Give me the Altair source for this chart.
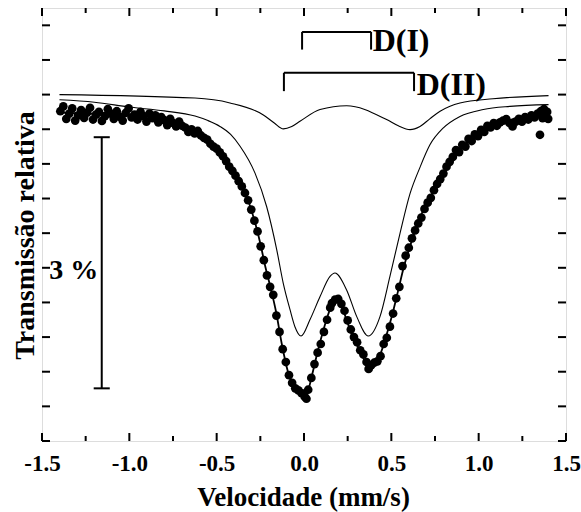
import altair as alt
import pandas as pd

FONT = "'Liberation Serif', 'Times New Roman', Times, serif"

# ---------------- data ----------------
# measured spectrum: velocity (mm/s) and relative transmission (arbitrary units, baseline ~10)
vel_data = [-1.395, -1.378, -1.361, -1.344, -1.327, -1.310, -1.293, -1.276, -1.259, -1.242,
            -1.225, -1.208, -1.191, -1.174, -1.157, -1.140, -1.123, -1.106, -1.089, -1.072,
            -1.055, -1.038, -1.021, -1.004, -0.987, -0.970, -0.953, -0.936, -0.919, -0.902,
            -0.885, -0.868, -0.851, -0.834, -0.817, -0.800, -0.783, -0.766, -0.749, -0.732,
            -0.715, -0.698,
            -0.680, -0.662, -0.644, -0.626, -0.608, -0.590, -0.572, -0.554, -0.536, -0.518,
            -0.500, -0.482, -0.464, -0.446, -0.428, -0.410, -0.392, -0.374, -0.356, -0.338,
            -0.320, -0.302, -0.284, -0.266, -0.248, -0.230, -0.212, -0.194, -0.176, -0.158,
            -0.140, -0.122, -0.104, -0.086, -0.068, -0.050, -0.032, -0.014, 0.004, 0.014,
            0.024, 0.042, 0.060, 0.078, 0.096, 0.114, 0.132, 0.150, 0.160, 0.178,
            0.196, 0.214, 0.232, 0.250, 0.268, 0.286, 0.304, 0.322, 0.340, 0.358,
            0.370, 0.384, 0.402, 0.420, 0.438, 0.456, 0.474, 0.492, 0.510, 0.528,
            0.546, 0.564, 0.582, 0.600, 0.618, 0.636, 0.654, 0.672, 0.690, 0.708,
            0.726, 0.744, 0.762, 0.780, 0.798, 0.816, 0.834, 0.852, 0.870, 0.888,
            0.906, 0.924, 0.942, 0.960, 0.978, 0.996, 1.014, 1.032, 1.050, 1.068,
            1.086, 1.104, 1.122, 1.140, 1.158, 1.176, 1.194, 1.212, 1.230, 1.248,
            1.266, 1.284, 1.302, 1.320, 1.338, 1.351, 1.356, 1.366, 1.374, 1.384,
            1.392, 1.398]
trans_data = [9.52, 9.66, 9.30, 9.45, 9.60, 9.25, 9.40, 9.55, 9.33, 9.48,
              9.62, 9.28, 9.42, 9.50, 9.24, 9.38, 9.58, 9.45, 9.30, 9.52,
              9.36, 9.25, 9.47, 9.60, 9.34, 9.42, 9.28, 9.50, 9.38, 9.22,
              9.45, 9.32, 9.40, 9.20, 9.35, 9.26, 9.12, 9.30, 9.18, 9.08,
              9.22, 9.10,
              9.05, 8.92, 9.00, 8.88, 8.95, 8.82, 8.75, 8.70, 8.58, 8.50,
              8.44, 8.33, 8.22, 8.08, 7.92, 7.80, 7.66, 7.50, 7.35, 7.16,
              6.95, 6.68, 6.36, 6.05, 5.62, 5.22, 4.78, 4.45, 4.22, 3.62,
              3.15, 2.65, 2.28, 1.90, 1.68, 1.52, 1.46, 1.38, 1.28, 1.22,
              1.48, 1.82, 2.22, 2.55, 2.80, 3.15, 3.50, 3.85, 3.98, 4.08,
              4.10, 3.96, 3.76, 3.48, 3.22, 3.00, 2.85, 2.62, 2.50, 2.28,
              2.08, 2.18, 2.26, 2.30, 2.45, 2.80, 2.98, 3.30, 3.68, 4.12,
              4.45, 5.05, 5.35, 5.58, 5.85, 6.08, 6.28, 6.45, 6.70, 6.88,
              7.02, 7.24, 7.42, 7.56, 7.72, 7.92, 8.06, 8.20, 8.40, 8.34,
              8.55, 8.50, 8.72, 8.66, 8.85, 8.80, 8.98, 8.92, 9.10, 9.05,
              9.18, 9.10, 9.20, 9.25, 9.29, 9.18, 9.08, 9.22, 9.30, 9.22,
              9.35, 9.28, 9.40, 9.34, 9.45, 8.84, 9.52, 9.32, 9.58, 9.40,
              9.50, 9.30]

# total fitted curve
vel_fit = [-1.40, -1.17, -0.94, -0.77, -0.65, -0.595, -0.54, -0.48, -0.42, -0.37,
           -0.31, -0.25, -0.22, -0.195, -0.16, -0.126, -0.092, -0.057, -0.023, 0.0,
           0.023, 0.046, 0.08, 0.115, 0.149, 0.177, 0.206, 0.24, 0.275, 0.309,
           0.344, 0.372, 0.401, 0.435, 0.469, 0.504, 0.538, 0.573, 0.607, 0.664,
           0.721, 0.779, 0.836, 0.893, 0.95, 1.008, 1.065, 1.122, 1.208, 1.294, 1.40]
trans_fit = [9.48, 9.44, 9.38, 9.26, 9.05, 8.90, 8.66, 8.30, 7.92, 7.47,
             6.80, 5.70, 5.00, 4.50, 3.73, 2.77, 2.00, 1.56, 1.35, 1.28,
             1.45, 1.90, 2.62, 3.27, 3.80, 4.05, 3.99, 3.55, 3.05, 2.72,
             2.35, 2.07, 2.16, 2.48, 3.00, 3.62, 4.32, 5.05, 5.62, 6.45,
             7.02, 7.54, 8.03, 8.41, 8.70, 8.90, 9.08, 9.20, 9.30, 9.37, 9.43]

# sub-spectrum D(I) (deep doublet)
vel_d1 = [-1.40, -1.20, -1.00, -0.80, -0.624, -0.55, -0.481, -0.42, -0.366, -0.281,
          -0.214, -0.156, -0.119, -0.080, -0.052, -0.017, 0.034, 0.092, 0.149, 0.177,
          0.244, 0.302, 0.368, 0.435, 0.492, 0.550, 0.607, 0.664, 0.721, 0.798,
          0.893, 1.027, 1.179, 1.40]
trans_d1 = [9.85, 9.78, 9.64, 9.53, 9.38, 9.25, 9.08, 8.85, 8.51, 7.74,
            6.77, 5.52, 4.56, 3.79, 3.30, 3.03, 3.50, 4.17, 4.75, 4.85,
            4.36, 3.59, 3.03, 3.59, 4.75, 6.00, 7.14, 7.90, 8.55, 9.04,
            9.37, 9.57, 9.66, 9.71]

# sub-spectrum D(II) (shallow doublet)
vel_d2 = [-1.40, -0.624, -0.424, -0.235, -0.17, -0.118, -0.07, -0.023, 0.092, 0.244,
          0.473, 0.54, 0.607, 0.664, 0.72, 0.779, 0.893, 1.082, 1.40]
trans_d2 = [10.00, 9.90, 9.76, 9.42, 9.18, 9.01, 9.08, 9.23, 9.57, 9.68,
            9.28, 9.10, 8.99, 9.08, 9.30, 9.52, 9.76, 9.88, 9.97]

# doublet markers: position lines (velocity) and height
d1_lines = [-0.011, 0.384]
d2_lines = [-0.115, 0.630]
d1_top, d1_bottom = 11.81, 11.30
d2_top, d2_bottom = 10.63, 10.10

# 3 % scale bar
bar_vel = -1.158
bar_cap = 0.046
bar_low, bar_high = 1.52, 8.77

x_major = [-1.5, -1.0, -0.5, 0.0, 0.5, 1.0, 1.5]
x_minor = [-1.25, -0.75, -0.25, 0.25, 0.75, 1.25]
y_ticks = [0, 1, 2, 3, 4, 5, 6, 7, 8, 9, 10, 11, 12]

# ---------------- chart ----------------
W, H = 524, 433
xs = alt.Scale(domain=[-1.5, 1.5], nice=False, zero=False)
ys = alt.Scale(domain=[0, 12.5], nice=False, zero=False)

df_pts = pd.DataFrame({"v": vel_data, "t": trans_data})
df_fit = pd.DataFrame({"v": vel_fit, "t": trans_fit})
df_d1 = pd.DataFrame({"v": vel_d1, "t": trans_d1})
df_d2 = pd.DataFrame({"v": vel_d2, "t": trans_d2})

x_axis = alt.Axis(
    values=x_major,
    labelExpr="replace(format(datum.value, '.1f'), '\u2212', '-')",
    ticks=False, tickSize=0, domain=False, grid=False,
    labelFont=FONT, labelFontSize=23, labelFontWeight="bold", labelColor="black",
    labelBaseline="alphabetic", labelPadding=29,
    labelOverlap=False, labelFlush=False, labelBound=False,
    title="Velocidade (mm/s)", titleFont=FONT, titleFontSize=27, titleFontWeight="bold",
    titleColor="black", titleX=261, titleY=64, titleBaseline="alphabetic", titleAlign="center",
)
y_axis = alt.Axis(
    values=[5], labels=False, ticks=False, tickSize=0, domain=False, grid=False,
    title="Transmissão relativa", titleFont=FONT, titleFontSize=28, titleFontWeight="bold",
    titleColor="black", titleX=-9, titleY=227, titleBaseline="alphabetic",
    titleAlign="center", titleAngle=270,
)

X = alt.X("v:Q", scale=xs, axis=x_axis)
Y = alt.Y("t:Q", scale=ys, axis=y_axis)

pts = alt.Chart(df_pts).mark_circle(size=76, color="black", opacity=1).encode(x=X, y=Y)

def curve(df, width):
    return alt.Chart(df).mark_line(color="black", strokeWidth=width, interpolate="monotone").encode(
        x=X, y=Y
    )

line_d1 = curve(df_d1, 1.1)
line_d2 = curve(df_d2, 1.1)
line_fit = curve(df_fit, 1.8)

# bracket markers
seg_rows = []
seg_rows.append({"v": d1_lines[0], "v2": d1_lines[1], "t": d1_top, "t2": d1_top})
for p in d1_lines:
    seg_rows.append({"v": p, "v2": p, "t": d1_top, "t2": d1_bottom})
seg_rows.append({"v": d2_lines[0], "v2": d2_lines[1], "t": d2_top, "t2": d2_top})
for p in d2_lines:
    seg_rows.append({"v": p, "v2": p, "t": d2_top, "t2": d2_bottom})
# scale bar
seg_rows.append({"v": bar_vel, "v2": bar_vel, "t": bar_low, "t2": bar_high})
seg_rows.append({"v": bar_vel - bar_cap, "v2": bar_vel + bar_cap, "t": bar_low, "t2": bar_low})
seg_rows.append({"v": bar_vel - bar_cap, "v2": bar_vel + bar_cap, "t": bar_high, "t2": bar_high})
df_seg = pd.DataFrame(seg_rows)

segs = alt.Chart(df_seg).mark_rule(color="black", strokeWidth=2).encode(
    x=X, x2="v2:Q", y=Y, y2="t2:Q",
)

df_lab = pd.DataFrame({
    "v": [0.393, 0.645],
    "t": [11.25, 10.0],
    "txt": ["D(I)", "D(II)"],
})
labels = alt.Chart(df_lab).mark_text(
    font=FONT, fontSize=32, fontWeight="bold", color="black", align="left", baseline="alphabetic"
).encode(x=X, y=Y, text="txt:N")

df_pct = pd.DataFrame({"v": [-1.178], "t": [4.67], "txt": ["3 %"]})
pct = alt.Chart(df_pct).mark_text(
    font=FONT, fontSize=28, fontWeight="bold", color="black", align="right", baseline="alphabetic"
).encode(x=X, y=Y, text="txt:N")

# inward ticks on all four sides
df_xmaj = pd.DataFrame({"v": x_major})
df_xmin = pd.DataFrame({"v": x_minor})
df_y = pd.DataFrame({"t": y_ticks})

def xticks(df, length, bottom=True):
    y0 = H if bottom else 0
    y1 = H - length if bottom else length
    return alt.Chart(df).mark_rule(color="black", strokeWidth=2).encode(
        x=X, y=alt.value(y0), y2=alt.value(y1)
    )

def yticks(df, length, left=True):
    x0 = 0 if left else W
    x1 = length if left else W - length
    return alt.Chart(df).mark_rule(color="black", strokeWidth=2).encode(
        y=Y, x=alt.value(x0), x2=alt.value(x1)
    )

ticks = [
    xticks(df_xmaj, 8, True), xticks(df_xmin, 5, True),
    xticks(df_xmaj, 8, False), xticks(df_xmin, 5, False),
    yticks(df_y, 8, True), yticks(df_y, 8, False),
]

chart = alt.layer(
    pts, line_d1, line_d2, line_fit, segs, labels, pct, *ticks
).properties(
    width=W, height=H,
    padding={"left": 42, "top": 8, "right": 15, "bottom": 71},
    autosize=alt.AutoSizeParams(type="none"),
).configure_view(
    stroke="black", strokeWidth=2
).configure(background="white")

chart.save("out.html", embed_options={"renderer": "svg", "actions": False})
